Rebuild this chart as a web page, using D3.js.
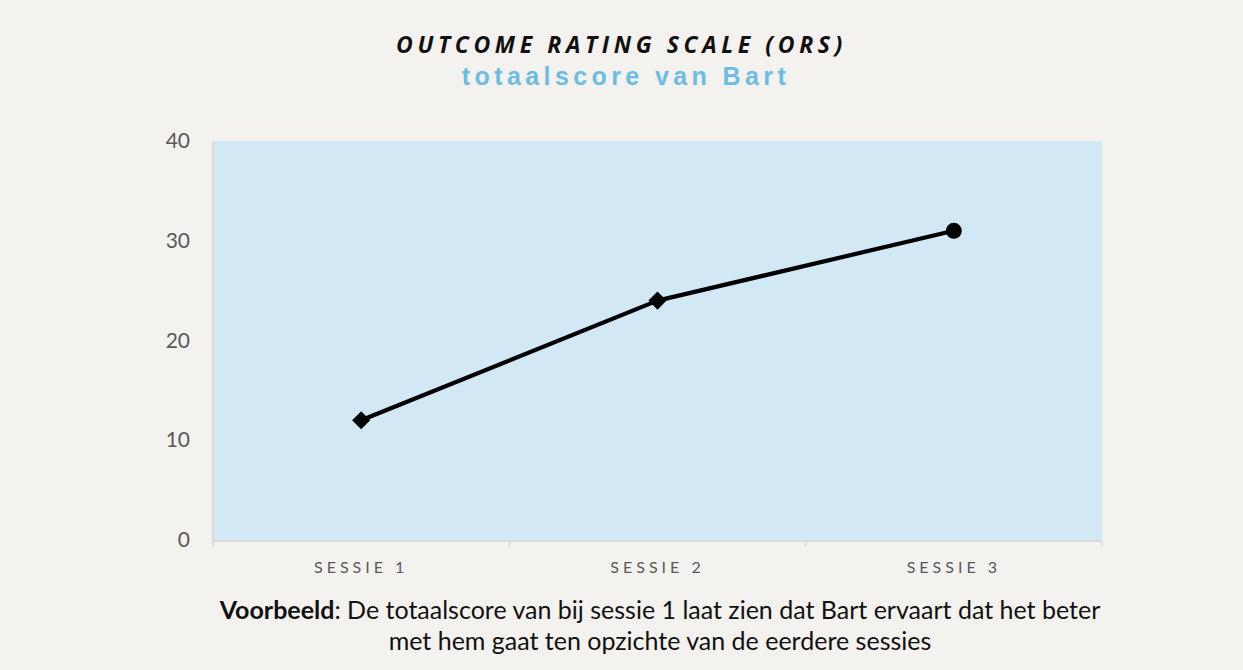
<!DOCTYPE html>
<html><head><meta charset="utf-8">
<script src="https://cdn.jsdelivr.net/npm/d3@7"></script>
<style>
html,body{margin:0;padding:0;background:#f3f2ee;}
</style></head>
<body>
<svg id="chart" width="1243" height="670"></svg>
<script>
const categories = ["SESSIE 1", "SESSIE 2", "SESSIE 3"];
const values = [12, 24, 31];
const markers = ["diamond", "diamond", "circle"];
const yTicks = [0, 10, 20, 30, 40];
const title = "OUTCOME RATING SCALE (ORS)";
const subtitle = "totaalscore van Bart";
const captionBold = "Voorbeeld";
const captionLine1 = ": De totaalscore van bij sessie 1 laat zien dat Bart ervaart dat het beter";
const captionLine2 = "met hem gaat ten opzichte van de eerdere sessies";

const svg = d3.select("#chart");
svg.append("rect").attr("width",1243).attr("height",670).attr("fill","#f3f2ee");

const m = {left:213, right:1102, top:141, bottom:540};
const x = d3.scaleBand().domain(categories).range([m.left, m.right]).padding(0);
const y = d3.scaleLinear().domain([0,40]).range([m.bottom, m.top]);

svg.append("rect").attr("x",m.left).attr("y",m.top)
  .attr("width",m.right-m.left).attr("height",m.bottom-m.top).attr("fill","#d2e8f4");

// y axis
const ya = svg.append("g").attr("transform",`translate(${m.left},0)`)
  .call(d3.axisLeft(y).tickValues(yTicks).tickSize(0).tickPadding(23));
ya.select(".domain").attr("stroke","#d9d9d9").attr("stroke-width",2)
  .attr("d",`M0,${m.top}V${m.bottom+6}`);
ya.selectAll("text").attr("font-family","Lato, 'Open Sans', sans-serif").attr("font-size",21).attr("fill","#595959");

// x axis
const xa = svg.append("g").attr("transform",`translate(0,${m.bottom})`)
  .call(d3.axisBottom(x).tickSize(0).tickPadding(21));
xa.select(".domain").attr("stroke","#d9d9d9").attr("stroke-width",2).attr("d",`M${m.left},1H${m.right}`);
xa.selectAll("text").attr("font-family","Lato, 'Open Sans', sans-serif").attr("font-size",16)
  .attr("fill","#595959").attr("letter-spacing","4px").attr("dy","0.75em");
const bounds = categories.map(c=>x(c)).concat([x(categories[categories.length-1])+x.bandwidth()]);
svg.append("g").selectAll("line").data(bounds).join("line")
  .attr("x1",d=>d).attr("x2",d=>d).attr("y1",m.bottom).attr("y2",m.bottom+7)
  .attr("stroke","#d9d9d9").attr("stroke-width",1.5);

// line
const cx = c => x(c) + x.bandwidth()/2;
const pts = categories.map((c,i)=>({c, v:values[i], mk:markers[i]}));
svg.append("path").datum(pts)
  .attr("d", d3.line().x(d=>cx(d.c)).y(d=>y(d.v)))
  .attr("fill","none").attr("stroke","#000").attr("stroke-width",4.2).attr("stroke-linejoin","round");
svg.append("g").selectAll("path").data(pts).join("path")
  .attr("transform",d=>`translate(${cx(d.c)},${y(d.v)})`)
  .attr("d",d=> d.mk==="diamond" ? d3.symbol(d3.symbolDiamond2,210)() : d3.symbol(d3.symbolCircle,200)())
  .attr("fill","#000");

// titles
svg.append("text").attr("x",621.5).attr("y",53).attr("text-anchor","middle")
  .attr("font-family","'Open Sans', sans-serif").attr("font-weight","bold").attr("font-style","italic")
  .attr("font-size",23).attr("letter-spacing","4.6px").attr("fill","#111").text(title);
svg.append("text").attr("x",626).attr("y",85).attr("text-anchor","middle")
  .attr("font-family","'Liberation Sans', Arial, sans-serif").attr("font-weight","bold")
  .attr("font-size",25).attr("letter-spacing","4.4px").attr("fill","#6cbde3").text(subtitle);

// caption
const cap = svg.append("text").attr("x",660).attr("y",619).attr("text-anchor","middle")
  .attr("font-family","Lato, 'Open Sans', sans-serif").attr("font-size",25).attr("fill","#111");
cap.append("tspan").attr("font-weight","bold").text(captionBold);
cap.append("tspan").text(captionLine1);
svg.append("text").attr("x",660).attr("y",650).attr("text-anchor","middle")
  .attr("font-family","Lato, 'Open Sans', sans-serif").attr("font-size",25).attr("fill","#111").text(captionLine2);
</script>
</body></html>
